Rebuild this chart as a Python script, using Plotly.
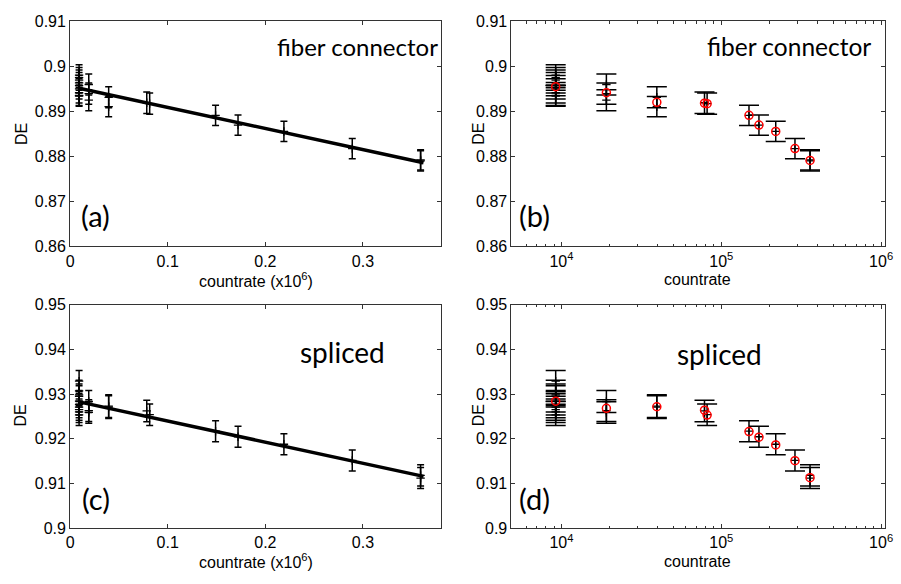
import plotly.graph_objects as go

# ---------------- data ----------------
# individual measurements (countrate in units of 1e6 counts/s)
fc_rate = [0.0092, 0.0092, 0.0092, 0.0092, 0.0092, 0.0092, 0.0092, 0.0092, 0.0092,
           0.0191, 0.0191, 0.0191, 0.0395, 0.0395, 0.0785, 0.0815,
           0.149, 0.172, 0.219, 0.289, 0.359, 0.359]
fc_de = [0.89806, 0.89748, 0.89692, 0.89634, 0.8957, 0.89499, 0.89413, 0.89355, 0.8934,
         0.89596, 0.89394, 0.89247, 0.89312, 0.89103, 0.8919, 0.8917,
         0.8891, 0.88695, 0.88553, 0.88172, 0.8792, 0.8790]
fc_err = [0.00226, 0.00226, 0.00226, 0.00226, 0.00226, 0.00226, 0.00226, 0.00226, 0.00226,
          0.00235, 0.00235, 0.00235, 0.00232, 0.00226, 0.00237, 0.00237,
          0.00226, 0.00226, 0.00226, 0.00226, 0.00226, 0.00226]
fc_mean_rate = [0.0092, 0.0191, 0.0395, 0.0785, 0.0815, 0.149, 0.172, 0.219, 0.289, 0.359]
fc_mean_de = [0.89548, 0.89415, 0.8920, 0.8918, 0.8917, 0.8891, 0.88695, 0.88553, 0.88172, 0.87908]
fc_fit_rate = [0.0092, 0.362]
fc_fit_de = [0.89512, 0.87858]

sp_rate = [0.0092, 0.0092, 0.0092, 0.0092, 0.0092, 0.0092, 0.0092, 0.0092, 0.0092, 0.0092,
           0.0191, 0.0191, 0.0191, 0.0395, 0.0395, 0.0785, 0.0815,
           0.149, 0.172, 0.219, 0.289, 0.359, 0.359]
sp_de = [0.93291, 0.93074, 0.92985, 0.9295, 0.92841, 0.9277, 0.92711, 0.92652, 0.92602, 0.92537,
         0.92835, 0.9263, 0.9259, 0.9273, 0.9271, 0.92624, 0.9254,
         0.9217, 0.92045, 0.91878, 0.91515, 0.9118, 0.9112]
sp_err = [0.00239, 0.00239, 0.00239, 0.00239, 0.00239, 0.00239, 0.00239, 0.00239, 0.00239, 0.00239,
          0.00245, 0.00245, 0.00240, 0.00254, 0.00254, 0.0024, 0.0024,
          0.00236, 0.00236, 0.00236, 0.00236, 0.00236, 0.00236]
sp_mean_rate = [0.0092, 0.0191, 0.0395, 0.0785, 0.0815, 0.149, 0.172, 0.219, 0.289, 0.359]
sp_mean_de = [0.92841, 0.92683, 0.92717, 0.9264, 0.9253, 0.92161, 0.92037, 0.91863, 0.91509, 0.9113]
sp_fit_rate = [0.0092, 0.362]
sp_fit_de = [0.92827, 0.91159]

lin_xticks = [0, 0.1, 0.2, 0.3]
lin_xticktext = ["0", "0.1", "0.2", "0.3"]
log_xticks = [1e4, 1e5, 1e6]
log_xticktext = ["10<sup>4</sup>", "10<sup>5</sup>", "10<sup>6</sup>"]
log_minor = [6e3, 7e3, 8e3, 9e3, 2e4, 3e4, 4e4, 5e4, 6e4, 7e4, 8e4, 9e4,
             2e5, 3e5, 4e5, 5e5, 6e5, 7e5, 8e5, 9e5]
top_yticks = [0.86, 0.87, 0.88, 0.89, 0.90, 0.91]
top_yticktext = ["0.86", "0.87", "0.88", "0.89", "0.9", "0.91"]
bot_yticks = [0.90, 0.91, 0.92, 0.93, 0.94, 0.95]
bot_yticktext = ["0.9", "0.91", "0.92", "0.93", "0.94", "0.95"]

# ---------------- figure ----------------
W, H = 901, 584
fig = go.Figure()

def px(x):
    return x / W

def py(y):
    return 1 - y / H

def err_trace(x, y, e, xa, ya, capw):
    return go.Scatter(x=x, y=y, mode="markers", xaxis=xa, yaxis=ya,
                      marker=dict(symbol="cross-thin", size=6, color="black",
                                  line=dict(width=1.3, color="black")),
                      error_y=dict(type="data", array=e, width=capw, thickness=1.5, color="black"),
                      showlegend=False, hoverinfo="skip")

scale = 1e6
fc_abs = [v * scale for v in fc_rate]
sp_abs = [v * scale for v in sp_rate]
fc_mean_abs = [v * scale for v in fc_mean_rate]
sp_mean_abs = [v * scale for v in sp_mean_rate]

# (a)
fig.add_trace(go.Scatter(x=fc_fit_rate, y=fc_fit_de, mode="lines", xaxis="x", yaxis="y",
                         line=dict(color="black", width=3.5), showlegend=False))
fig.add_trace(err_trace(fc_rate, fc_de, fc_err, "x", "y", 3.5))
# (b)
fig.add_trace(err_trace(fc_abs, fc_de, fc_err, "x2", "y2", 10))
fig.add_trace(go.Scatter(x=fc_mean_abs, y=fc_mean_de, mode="markers", xaxis="x2", yaxis="y2",
                         marker=dict(symbol="circle-open", size=8, color="red", line=dict(width=1.5, color="red")),
                         showlegend=False))
# (c)
fig.add_trace(go.Scatter(x=sp_fit_rate, y=sp_fit_de, mode="lines", xaxis="x3", yaxis="y3",
                         line=dict(color="black", width=3.5), showlegend=False))
fig.add_trace(err_trace(sp_rate, sp_de, sp_err, "x3", "y3", 3.5))
# (d)
fig.add_trace(err_trace(sp_abs, sp_de, sp_err, "x4", "y4", 10))
fig.add_trace(go.Scatter(x=sp_mean_abs, y=sp_mean_de, mode="markers", xaxis="x4", yaxis="y4",
                         marker=dict(symbol="circle-open", size=8, color="red", line=dict(width=1.5, color="red")),
                         showlegend=False))

tickfont = dict(family="Liberation Sans, Arial, sans-serif", size=16, color="black")
common = dict(showline=True, linecolor="#333333", linewidth=1, mirror="ticks", ticks="inside",
              ticklen=4, tickcolor="#333333", showgrid=False, zeroline=False, tickfont=tickfont)

dom_left = [px(67), px(443)]
dom_right = [px(514.3), px(892.7)]
dom_top = [py(245.5), py(13.7)]
dom_bot = [py(535.7), py(305.7)]

fig.update_layout(
    width=W, height=H, margin=dict(l=0, r=0, t=0, b=0),
    plot_bgcolor="white", paper_bgcolor="white",
    xaxis=dict(domain=dom_left, anchor="y", range=[0, 0.38], tickvals=lin_xticks,
               ticktext=lin_xticktext, **common),
    yaxis=dict(domain=dom_top, anchor="x", range=[0.86, 0.91], tickvals=top_yticks,
               ticktext=top_yticktext, **common),
    xaxis2=dict(domain=dom_right, anchor="y2", type="log", range=[3.687, 6.023],
                tickvals=log_xticks, ticktext=log_xticktext,
                minor=dict(tickvals=log_minor, ticks="inside", ticklen=2.5, tickcolor="#333333"),
                **common),
    yaxis2=dict(domain=dom_top, anchor="x2", range=[0.86, 0.91], tickvals=top_yticks,
                ticktext=top_yticktext, **common),
    xaxis3=dict(domain=dom_left, anchor="y3", range=[0, 0.38], tickvals=lin_xticks,
                ticktext=lin_xticktext, **common),
    yaxis3=dict(domain=dom_bot, anchor="x3", range=[0.90, 0.95], tickvals=bot_yticks,
                ticktext=bot_yticktext, **common),
    xaxis4=dict(domain=dom_right, anchor="y4", type="log", range=[3.687, 6.023],
                tickvals=log_xticks, ticktext=log_xticktext,
                minor=dict(tickvals=log_minor, ticks="inside", ticklen=2.5, tickcolor="#333333"),
                **common),
    yaxis4=dict(domain=dom_bot, anchor="x4", range=[0.90, 0.95], tickvals=bot_yticks,
                ticktext=bot_yticktext, **common),
)

serif_like = "Lato, Open Sans, sans-serif"
lab = dict(family="Liberation Sans, Arial, sans-serif", size=16, color="black")

def big(size):
    return dict(family=serif_like, size=size, color="black")

def ann(text, x, y, font, angle=0):
    fig.add_annotation(text=text, x=px(x), y=py(y), xref="paper", yref="paper",
                       showarrow=False, xanchor="center", yanchor="middle",
                       font=font, textangle=angle)

ann("fiber connector", 358, 40, big(24))
ann("fiber connector", 796, 40, big(24.5))
ann("spliced", 343, 354, big(28))
ann("spliced", 725, 356, big(28))
ann("(a)", 93, 214, big(29))
ann("(b)", 538, 214, big(29))
ann("(c)", 93, 505, big(29))
ann("(d)", 538, 505, big(29))
for xx, yy in [(17, 130), (481, 130), (17, 420), (481, 420)]:
    ann("DE", xx, yy, lab, -90)
ann("countrate (x10<sup>6</sup>)", 255, 280, lab)
ann("countrate", 703, 280, lab)
ann("countrate (x10<sup>6</sup>)", 255, 570, lab)
ann("countrate", 703, 570, lab)

fig.write_html("out.html")
